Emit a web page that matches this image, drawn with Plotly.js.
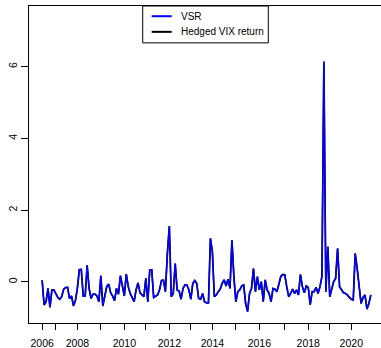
<!DOCTYPE html>
<html>
<head>
<meta charset="utf-8">
<script src="https://cdn.plot.ly/plotly-3.0.1.min.js"></script>
<style>
  html, body { margin: 0; padding: 0; background: #fff; overflow: hidden; }
  #chart { width: 384px; height: 348px; }
</style>
</head>
<body>
<div id="chart"></div>
<script>
// Monthly observations, indexed in order (0 = first month of 2006)
const vsr = [
  0.05, -0.64, -0.55, -0.18, -0.71, -0.22, -0.22, -0.35, -0.43, -0.48,
  -0.41, -0.20, -0.15, -0.15, -0.46, -0.39, -0.67, -0.52, -0.18, 0.35,
  0.35, -0.39, -0.39, 0.47, -0.18, -0.46, -0.34, -0.34, -0.39, -0.55,
  0.18, -0.67, -0.40, -0.13, -0.06, -0.30, -0.39, -0.52, -0.18, -0.34,
  0.18, -0.15, -0.39, 0.22, -0.13, -0.32, -0.43, -0.55, -0.22, -0.02,
  -0.30, -0.36, -0.41, 0.10, -0.55, 0.34, 0.34, -0.43, -0.40, -0.36,
  -0.22, 0.04, 0.05, -0.27, 0.80, 1.56, -0.41, -0.32, 0.52, -0.22,
  -0.25, -0.48, -0.18, -0.08, -0.08, -0.22, -0.48, -0.04, 0.04, -0.04,
  -0.46, -0.48, -0.32, -0.55, -0.58, -0.58, 1.22, 0.85, -0.41, -0.36,
  -0.27, -0.20, -0.04, 0.06, -0.11, 0.08, -0.18, 1.17, 0.15, -0.55,
  -0.27, -0.22, -0.11, -0.08, -0.60, -0.83, -0.32, -0.18, 0.38, -0.27,
  0.15, -0.22, 0.01, -0.55, 0.06, -0.22, -0.32, -0.55, -0.18, -0.20,
  -0.27, -0.04, 0.15, 0.20, 0.20, -0.13, -0.41, -0.32, -0.20, -0.32,
  -0.22, -0.36, 0.20, -0.13, -0.30, -0.11, -0.15, -0.64, -0.27, -0.27,
  -0.15, -0.32, -0.13, 0.15, 6.15, -0.27, 0.99, -0.41, -0.18, 0.01,
  0.10, 0.94, -0.13, -0.22, -0.30, -0.32, -0.36, -0.43, -0.48, -0.50,
  0.80, 0.38, -0.04, -0.60, -0.43, -0.36, -0.76, -0.60, -0.36
];

const hedgedVix = [
  0.05, -0.64, -0.55, -0.18, -0.70, -0.22, -0.22, -0.35, -0.43, -0.48,
  -0.41, -0.20, -0.16, -0.15, -0.46, -0.39, -0.66, -0.52, -0.18, 0.34,
  0.35, -0.39, -0.39, 0.46, -0.18, -0.46, -0.34, -0.34, -0.39, -0.55,
  0.17, -0.67, -0.40, -0.13, -0.06, -0.30, -0.39, -0.52, -0.18, -0.34,
  0.17, -0.15, -0.39, 0.22, -0.13, -0.32, -0.43, -0.55, -0.22, -0.03,
  -0.30, -0.36, -0.41, 0.10, -0.55, 0.33, 0.34, -0.43, -0.40, -0.36,
  -0.22, 0.04, 0.05, -0.27, 0.79, 1.55, -0.41, -0.32, 0.51, -0.22,
  -0.25, -0.48, -0.18, -0.08, -0.09, -0.22, -0.48, -0.04, 0.04, -0.04,
  -0.46, -0.48, -0.32, -0.55, -0.58, -0.58, 1.21, 0.85, -0.41, -0.36,
  -0.27, -0.20, -0.04, 0.06, -0.11, 0.08, -0.18, 1.16, 0.15, -0.55,
  -0.27, -0.22, -0.11, -0.08, -0.60, -0.82, -0.32, -0.18, 0.37, -0.27,
  0.15, -0.22, 0.01, -0.55, 0.06, -0.22, -0.32, -0.55, -0.18, -0.20,
  -0.27, -0.04, 0.16, 0.21, 0.20, -0.13, -0.41, -0.32, -0.20, -0.32,
  -0.22, -0.36, 0.21, -0.13, -0.30, -0.11, -0.15, -0.63, -0.27, -0.27,
  -0.15, -0.32, -0.13, 0.16, 6.12, -0.27, 0.98, -0.41, -0.18, 0.01,
  0.10, 0.93, -0.13, -0.22, -0.30, -0.32, -0.36, -0.43, -0.48, -0.50,
  0.79, 0.38, -0.04, -0.60, -0.43, -0.36, -0.75, -0.60, -0.36
];

// Index of the first observation in each calendar year
const yearTickIndex = [0, 7, 18, 30, 42, 53, 65, 76, 87, 99, 111, 124, 136, 147, 158];
const yearTickLabels = ['2006', '', '2008', '', '2010', '', '2012', '', '2014', '', '2016', '', '2018', '', '2020'];
const yTicks = [0, 2, 4, 6];

const idx = vsr.map((_, i) => i);
const FONT = 'Liberation Sans, Arial, Helvetica, sans-serif';

const traces = [
  {
    x: idx, y: hedgedVix, type: 'scatter', mode: 'lines', name: 'Hedged VIX return',
    line: { color: '#000000', width: 1.7 }, hoverinfo: 'skip'
  },
  {
    x: idx, y: vsr, type: 'scatter', mode: 'lines', name: 'VSR',
    line: { color: '#0000ff', width: 1.5 }, hoverinfo: 'skip'
  }
];

// Legend box drawn in paper coordinates
const L = { x0: 0.3203, x1: 0.6741, y0: 0.8837, y1: 1.0 };
const rowY = [0.9678, 0.9185];
const sampleX = [0.3456, 0.4020];
const textX = 0.4254;

const layout = {
  width: 384, height: 348,
  margin: { l: 29, r: 0, t: 6, b: 25 },
  paper_bgcolor: '#ffffff', plot_bgcolor: '#ffffff',
  showlegend: false,
  font: { family: FONT, size: 10.5, color: '#000' },
  xaxis: {
    range: [-6.72, 174.72], showgrid: false, zeroline: false,
    showline: true, mirror: true, linecolor: '#000', linewidth: 1,
    tickmode: 'array', tickvals: yearTickIndex, ticktext: yearTickLabels,
    ticks: 'outside', ticklen: 6, tickcolor: '#000', tickwidth: 1,
    ticklabelstandoff: 4,
    tickfont: { family: FONT, size: 10.5, color: '#000' }
  },
  yaxis: {
    range: [-1.143, 7.692], showgrid: false, zeroline: false,
    showline: true, mirror: true, linecolor: '#000', linewidth: 1,
    tickmode: 'array', tickvals: yTicks, ticktext: yTicks.map(String),
    ticks: 'outside', ticklen: 7, tickcolor: '#000', tickwidth: 1,
    tickangle: -90,
    tickfont: { family: FONT, size: 10.5, color: '#000' }
  },
  shapes: [
    { type: 'rect', xref: 'paper', yref: 'paper', x0: L.x0, x1: L.x1, y0: L.y0, y1: L.y1,
      line: { color: '#000', width: 1 }, fillcolor: '#ffffff' },
    { type: 'line', xref: 'paper', yref: 'paper', x0: sampleX[0], x1: sampleX[1], y0: rowY[0], y1: rowY[0],
      line: { color: '#0000ff', width: 2 } },
    { type: 'line', xref: 'paper', yref: 'paper', x0: sampleX[0], x1: sampleX[1], y0: rowY[1], y1: rowY[1],
      line: { color: '#000000', width: 2 } }
  ],
  annotations: [
    { xref: 'paper', yref: 'paper', x: textX, y: rowY[0], xanchor: 'left', yanchor: 'middle',
      text: 'VSR', showarrow: false, borderpad: 0, font: { family: FONT, size: 10, color: '#000' } },
    { xref: 'paper', yref: 'paper', x: textX, y: rowY[1], xanchor: 'left', yanchor: 'middle',
      text: 'Hedged VIX return', showarrow: false, borderpad: 0, font: { family: FONT, size: 10, color: '#000' } }
  ]
};

Plotly.newPlot('chart', traces, layout, { staticPlot: true, displayModeBar: false });
</script>
</body>
</html>
